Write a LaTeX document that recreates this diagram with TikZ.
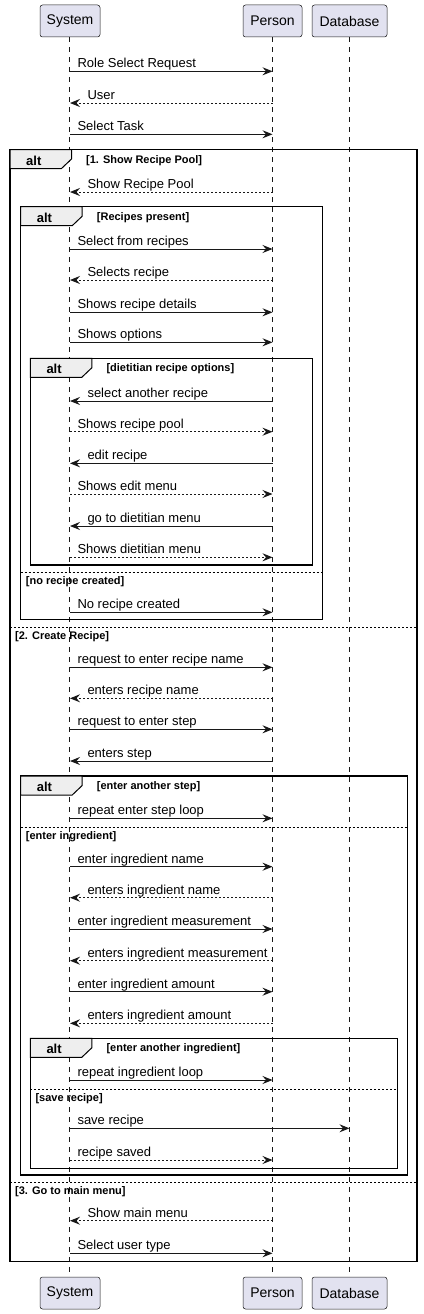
\documentclass[tikz,border=0pt]{standalone}
\usepackage{fontspec}
\setmainfont{Liberation Sans}
\usetikzlibrary{arrows.meta}
\definecolor{ln}{HTML}{181818}
\definecolor{partfill}{HTML}{E2E2F0}
\definecolor{tabfill}{HTML}{EEEEEE}
\newcounter{mc}
\newcounter{fc}
\newcommand\fmsg{\fontsize{13}{15}\selectfont}
\newcommand\fbold{\fontsize{11}{13}\selectfont\bfseries}
\newcommand\falt{\fontsize{13}{15}\selectfont\bfseries}
% System -> target
\newcommand\mright[4]{%
  \stepcounter{mc}%
  \draw[msg,#2] (sysT |- 0,#3) -- (#1 |- 0,#3);
  \pgfmathsetmacro\ty{#3-3.5}%
  \node[mlbl,xshift=7.3pt] (m\arabic{mc}) at (sysT |- 0,\ty) {#4};}
% Person -> System
\newcommand\mleft[3]{%
  \stepcounter{mc}%
  \draw[msg,#1] (perT |- 0,#2) -- (sysT |- 0,#2);
  \pgfmathsetmacro\ty{#2-3.5}%
  \node[mlbl,xshift=17.3pt] (m\arabic{mc}) at (sysT |- 0,\ty) {#3};}
% alt frame: left, top, right, bottom, label
\newcommand\altframe[5]{%
  \stepcounter{fc}%
  \draw[frame] (#1,#2) rectangle (#3,#4);
  \pgfmathsetmacro\tr{#1+61.5}\pgfmathsetmacro\tc{#1+51.5}%
  \pgfmathsetmacro\tm{#2+9.5}\pgfmathsetmacro\tb{#2+19}%
  \filldraw[tabshape] (#1,#2) -- (\tr,#2) -- (\tr,\tm) -- (\tc,\tb) -- (#1,\tb) -- cycle;
  \pgfmathsetmacro\ay{#2+15.5}\pgfmathsetmacro\ax{#1+16}%
  \node[anchor=base west,inner sep=0pt,font=\falt] (alt\arabic{fc}) at (\ax,\ay) {alt};
  \pgfmathsetmacro\ly{#2+13.5}\pgfmathsetmacro\lx{#1+76}%
  \node[anchor=base west,inner sep=0pt,font=\fbold] (grd\arabic{fc}) at (\lx,\ly) {#5};}
% else separator: left, right, y, label
\newcommand\elsesep[4]{%
  \stepcounter{fc}%
  \draw[sep] (#1,#3) -- (#2,#3);
  \pgfmathsetmacro\ly{#3+12}\pgfmathsetmacro\lx{#1+5}%
  \node[anchor=base west,inner sep=0pt,font=\fbold] (els\arabic{fc}) at (\lx,\ly) {#4};}
\tikzset{
  part/.style={draw=ln,fill=partfill,line width=0.5pt,rounded corners=2.5pt,
    minimum height=32pt,inner sep=0pt,font=\fontsize{14}{16}\selectfont},
  life/.style={draw=ln,line width=0.5pt,dash pattern=on 5pt off 5pt},
  msg/.style={draw=ln,line width=1pt,-{Stealth[length=10pt,width=8pt,inset=3.5pt]}},
  dsh/.style={dash pattern=on 2pt off 2pt},
  sld/.style={},
  mlbl/.style={anchor=base west,inner sep=0pt,font=\fmsg,text=black},
  frame/.style={draw=black,line width=1.5pt},
  tabshape/.style={draw=black,fill=tabfill,line width=1pt},
  sep/.style={draw=black,line width=0.8pt,dash pattern=on 2pt off 2pt},
}
\begin{document}
\begin{tikzpicture}[x=1pt,y=-1pt]
\useasboundingbox (0,0) rectangle (423,1314);
% participants
\node[part,minimum width=60pt] (sysT) at (70,21) {System};
\node[part,minimum width=59pt] (perT) at (272.5,21) {Person};
\node[part,minimum width=75pt] (dbT) at (349.5,21) {Database};
\node[part,minimum width=60pt] (sysB) at (70,1293) {System};
\node[part,minimum width=59pt] (perB) at (272.5,1293) {Person};
\node[part,minimum width=75pt] (dbB) at (349.5,1293) {Database};
\draw[life] ([xshift=-0.5pt]sysT.south) -- ([xshift=-0.5pt]sysB.north);
\draw[life] ([xshift=-0.5pt]perT.south) -- ([xshift=-0.5pt]perB.north);
\draw[life] ([xshift=-0.5pt]dbT.south) -- ([xshift=-0.5pt]dbB.north);
% frames
\altframe{10}{149.5}{417}{1261.7}{[1. Show Recipe Pool]}
\elsesep{10}{417}{627.7}{[2. Create Recipe]}
\elsesep{10}{417}{1182.7}{[3. Go to main menu]}
\altframe{20.7}{206.7}{322.3}{619.3}{[Recipes present]}
\elsesep{20.7}{322.3}{572.7}{[no recipe created]}
\altframe{30.3}{358.3}{312.3}{565}{[dietitian recipe options]}
\altframe{20.7}{776}{407.3}{1175}{[enter another step]}
\elsesep{20.7}{407.3}{827.3}{[enter ingredient]}
\altframe{30.3}{1038.3}{397.3}{1168.3}{[enter another ingredient]}
\elsesep{30.3}{397.3}{1089.3}{[save recipe]}
% messages
\mright{perT}{sld}{71.3}{Role Select Request}
\mleft{dsh}{103}{User}
\mright{perT}{sld}{134.3}{Select Task}
\mleft{dsh}{192}{Show Recipe Pool}
\mright{perT}{sld}{249}{Select from recipes}
\mleft{dsh}{280}{Selects recipe}
\mright{perT}{sld}{312.3}{Shows recipe details}
\mright{perT}{sld}{342.3}{Shows options}
\mleft{sld}{401}{select another recipe}
\mright{perT}{dsh}{431.7}{Shows recipe pool}
\mleft{sld}{463.3}{edit recipe}
\mright{perT}{dsh}{494}{Shows edit menu}
\mleft{sld}{526}{go to dietitian menu}
\mright{perT}{dsh}{557.3}{Shows dietitian menu}
\mright{perT}{sld}{612.3}{No recipe created}
\mright{perT}{sld}{667.3}{request to enter recipe name}
\mleft{dsh}{698.3}{enters recipe name}
\mright{perT}{sld}{729.3}{request to enter step}
\mleft{sld}{761}{enters step}
\mright{perT}{sld}{818.3}{repeat enter step loop}
\mright{perT}{sld}{866.7}{enter ingredient name}
\mleft{dsh}{897.7}{enters ingredient name}
\mright{perT}{sld}{929}{enter ingredient measurement}
\mleft{dsh}{960.7}{enters ingredient measurement}
\mright{perT}{sld}{991.7}{enter ingredient amount}
\mleft{dsh}{1023.3}{enters ingredient amount}
\mright{perT}{sld}{1080}{repeat ingredient loop}
\mright{dbT}{sld}{1128.3}{save recipe}
\mright{perT}{dsh}{1160}{recipe saved}
\mleft{dsh}{1220.7}{Show main menu}
\mright{perT}{sld}{1253.3}{Select user type}
\end{tikzpicture}
\end{document}
